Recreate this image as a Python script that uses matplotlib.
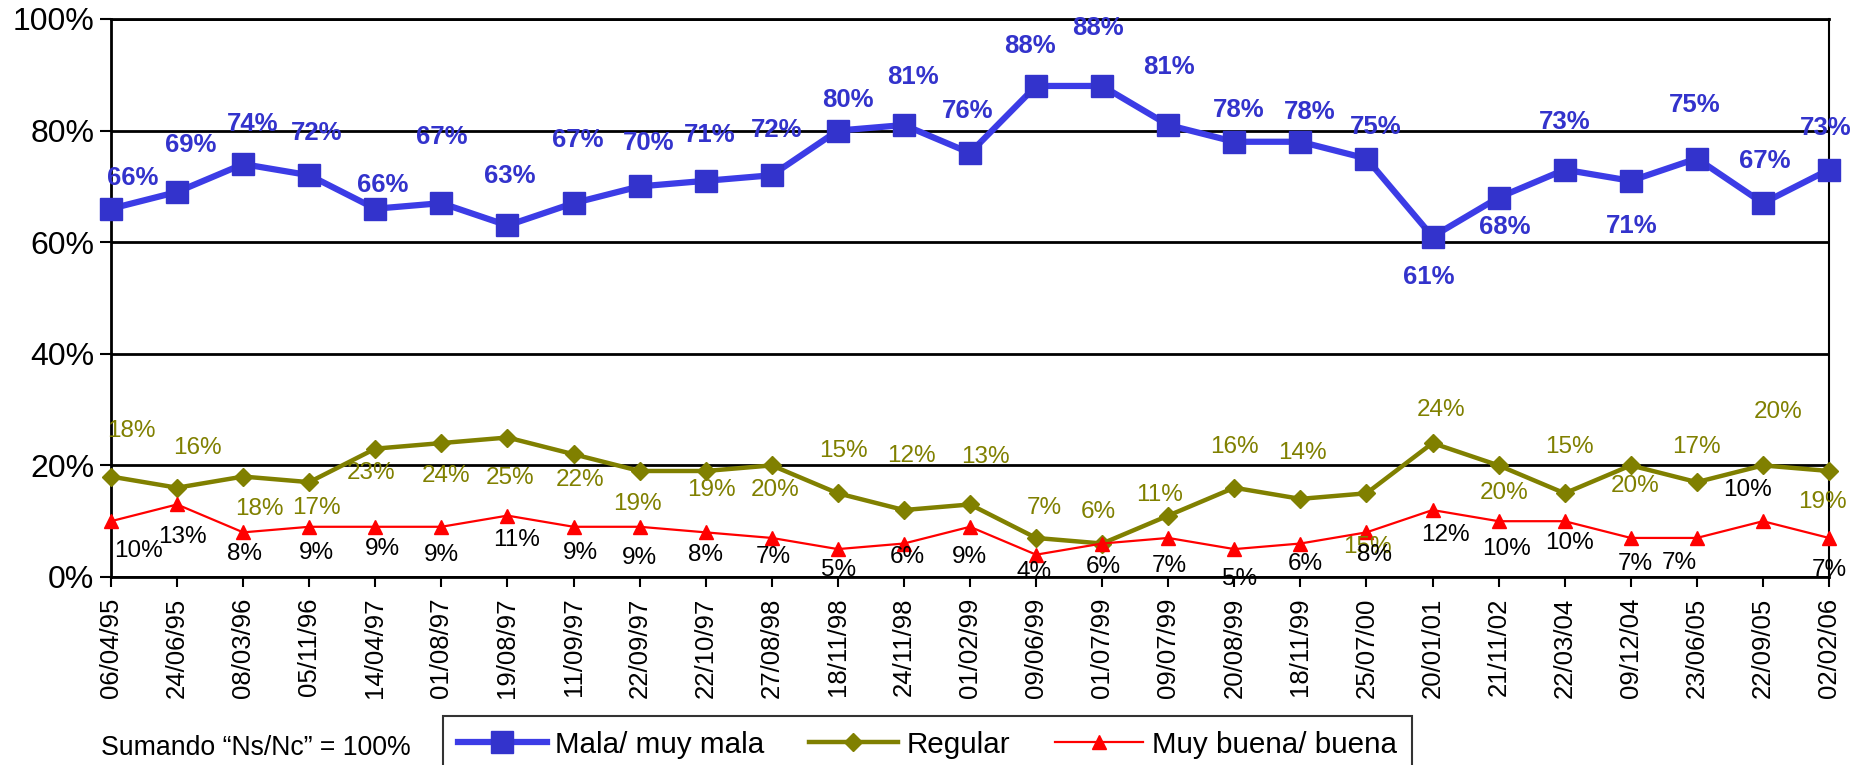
import matplotlib
matplotlib.use("Agg")
import matplotlib.pyplot as plt
from matplotlib.lines import Line2D

plt.rcParams["font.family"] = ["Liberation Sans", "DejaVu Sans"]

# Fechas de las encuestas y porcentajes por respuesta
fechas = [
    "06/04/95", "24/06/95", "08/03/96", "05/11/96", "14/04/97", "01/08/97",
    "19/08/97", "11/09/97", "22/09/97", "22/10/97", "27/08/98", "18/11/98",
    "24/11/98", "01/02/99", "09/06/99", "01/07/99", "09/07/99", "20/08/99",
    "18/11/99", "25/07/00", "20/01/01", "21/11/02", "22/03/04", "09/12/04",
    "23/06/05", "22/09/05", "02/02/06",
]
mala = [66, 69, 74, 72, 66, 67, 63, 67, 70, 71, 72, 80, 81, 76, 88, 88, 81,
        78, 78, 75, 61, 68, 73, 71, 75, 67, 73]
regular = [18, 16, 18, 17, 23, 24, 25, 22, 19, 19, 20, 15, 12, 13, 7, 6, 11,
           16, 14, 15, 24, 20, 15, 20, 17, 20, 19]
buena = [10, 13, 8, 9, 9, 9, 11, 9, 9, 8, 7, 5, 6, 9, 4, 6, 7, 5, 6, 8, 12,
         10, 10, 7, 7, 10, 7]

# desplazamiento de cada etiqueta respecto a su punto (px, y hacia abajo)
OFF_MALA = [(22, -31), (14, -47), (9, -40), (7, -42), (7, -24), (0, -66),
            (2, -49), (4, -63), (9, -43), (4, -46), (5, -45), (10, -31),
            (9, -48), (-2, -42), (-6, -40), (-4, -58), (1, -58), (4, -32),
            (9, -30), (9, -32), (-4, 40), (6, 29), (0, -48), (1, 45),
            (-2, -54), (2, -42), (-3, -42)]
OFF_REG = [(20, -46), (20, -40), (16, 32), (7, 26), (-4, 24), (5, 33),
           (3, 41), (7, 26), (-2, 33), (6, 19), (3, 25), (6, -42), (8, -54),
           (15, -47), (8, -30), (-4, -32), (-9, -21), (0, -41), (2, -46),
           (1, 54), (9, -33), (6, 28), (5, -46), (4, 21), (0, -35),
           (15, -53), (-7, 31)]
OFF_BUENA = [(28, 30), (5, 33), (1, 22), (7, 26), (7, 22), (0, 28), (9, 24),
             (7, 26), (0, 31), (0, 23), (2, 19), (1, 21), (3, 13), (-1, 30),
             (-2, 17), (1, 23), (1, 28), (5, 30), (5, 20), (8, 23), (13, 25),
             (8, 28), (5, 22), (5, 26), (-18, 25), (-15, -31), (0, 32)]

BLUE = "#3333CC"
BLUE_LINE = "#3C3CE6"
OLIVE = "#808000"
RED = "#FF0000"

W, H = 1865, 765
fig = plt.figure(figsize=(W / 100, H / 100), dpi=100)
ax = fig.add_axes([111 / W, 1 - 577 / H, (1829 - 111) / W, (577 - 19) / H])

x = list(range(len(fechas)))
ax.plot(x, mala, color=BLUE_LINE, linewidth=4.5, marker="s", markersize=16,
        markerfacecolor=BLUE, markeredgecolor=BLUE, clip_on=False, zorder=5)
ax.plot(x, regular, color=OLIVE, linewidth=3.2, marker="D", markersize=9.5,
        clip_on=False, zorder=4)
ax.plot(x, buena, color=RED, linewidth=1.6, marker="^", markersize=10,
        clip_on=False, zorder=4.5)

for i in x:
    dx, dy = OFF_MALA[i]
    ax.annotate(f"{mala[i]}%", (i, mala[i]), xytext=(dx, -dy),
                textcoords="offset pixels", ha="center", va="center",
                fontsize=18.5, fontweight="bold", color=BLUE, zorder=6,
                annotation_clip=False)
    dx, dy = OFF_REG[i]
    ax.annotate(f"{regular[i]}%", (i, regular[i]), xytext=(dx, -dy),
                textcoords="offset pixels", ha="center", va="center",
                fontsize=17.5, color=OLIVE, zorder=6, annotation_clip=False)
    dx, dy = OFF_BUENA[i]
    ax.annotate(f"{buena[i]}%", (i, buena[i]), xytext=(dx, -dy),
                textcoords="offset pixels", ha="center", va="center",
                fontsize=17.5, color="black", zorder=6, annotation_clip=False)

ax.set_xlim(0, len(fechas) - 1)
ax.set_ylim(0, 100)
ax.set_yticks([0, 20, 40, 60, 80, 100])
ax.set_yticklabels([f"{v}%" for v in [0, 20, 40, 60, 80, 100]])
ax.set_xticks(x)
ax.set_xticklabels(fechas, rotation=90)
ax.tick_params(axis="y", labelsize=23, length=8, width=1.5, pad=4)
ax.tick_params(axis="x", labelsize=18.5, length=7, width=1.5, pad=8)

ax.yaxis.grid(True, color="black", linewidth=2)
ax.set_axisbelow(True)
for side in ["left", "bottom", "top"]:
    ax.spines[side].set_linewidth(2)
ax.spines["right"].set_linewidth(1.5)

handles = [
    Line2D([], [], color=BLUE_LINE, linewidth=4.5, marker="s", markersize=16,
           markerfacecolor=BLUE, markeredgecolor=BLUE),
    Line2D([], [], color=OLIVE, linewidth=3.2, marker="D", markersize=9.5),
    Line2D([], [], color=RED, linewidth=1.6, marker="^", markersize=10),
]
leg = fig.legend(handles, ["Mala/ muy mala", "Regular", "Muy buena/ buena"],
                 loc="upper left", bbox_to_anchor=(443 / W, 1 - 716 / H),
                 ncol=3, fontsize=21.3, frameon=True, fancybox=False,
                 handlelength=3.0, handletextpad=0.3, columnspacing=1.5,
                 borderpad=0.5, borderaxespad=0)
leg.get_frame().set_edgecolor("black")
leg.get_frame().set_linewidth(1.5)

fig.text(101 / W, 1 - 755 / H, "Sumando \u201cNs/Nc\u201d = 100%",
         fontsize=19.2, ha="left", va="baseline")

fig.savefig("out.png", dpi=100)
